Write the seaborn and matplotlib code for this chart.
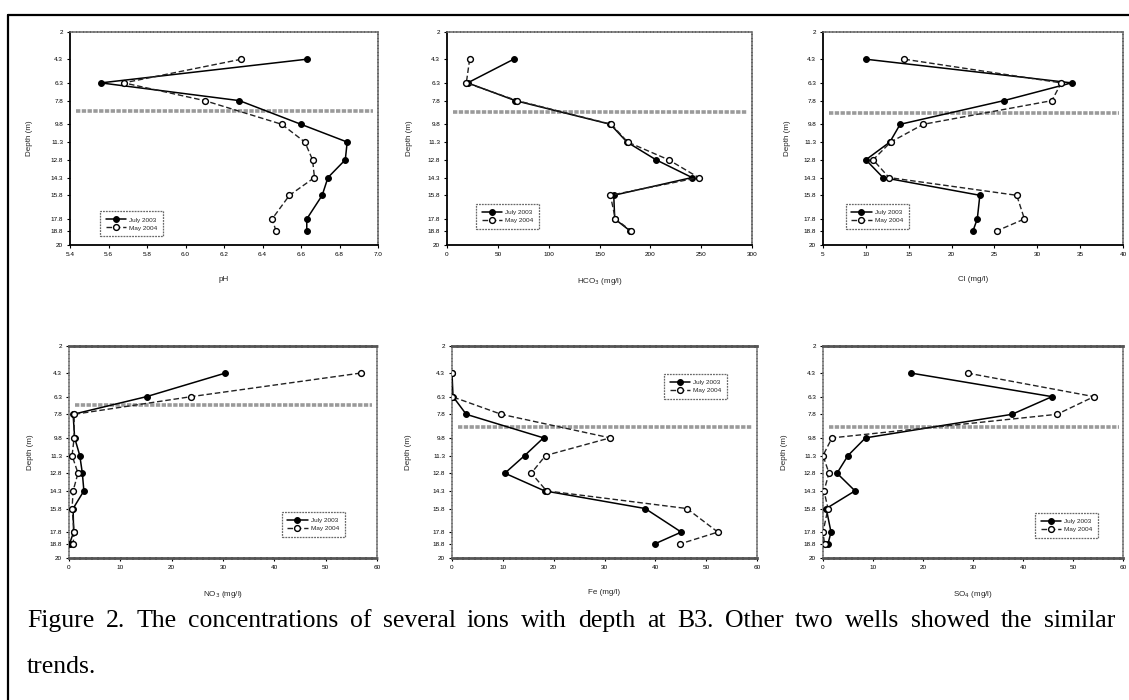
import numpy as np
import pandas as pd
import matplotlib
matplotlib.use("Agg")
import matplotlib.pyplot as plt
import seaborn as sns

# ---------------- data ----------------
depth = [4.3, 6.3, 7.8, 9.8, 11.3, 12.8, 14.3, 15.8, 17.8, 18.8]
depth_ticks = [2, 4.3, 6.3, 7.8, 9.8, 11.3, 12.8, 14.3, 15.8, 17.8, 18.8, 20]
depth_tick_labels = ["2", "4.3", "6.3", "7.8", "9.8", "11.3", "12.8", "14.3", "15.8", "17.8", "18.8", "20"]

ph_jul03 = [6.63, 5.56, 6.28, 6.60, 6.84, 6.83, 6.74, 6.71, 6.63, 6.63]
ph_may04 = [6.29, 5.68, 6.10, 6.50, 6.62, 6.66, 6.67, 6.54, 6.45, 6.47]

hco3_jul03 = [65.6, 20.3, 67.2, 160.7, 177.0, 205.6, 241.0, 164.0, 165.0, 180.0]
hco3_may04 = [22.3, 19.0, 68.9, 161.6, 177.7, 218.0, 247.5, 160.7, 165.6, 181.0]

cl_jul03 = [10.0, 34.0, 26.1, 14.0, 12.8, 10.0, 12.0, 23.3, 23.0, 22.5]
cl_may04 = [14.5, 32.8, 31.7, 16.7, 12.9, 10.85, 12.7, 27.6, 28.5, 25.3]

no3_jul03 = [30.45, 15.1, 0.8, 1.1, 2.1, 2.6, 2.9, 0.8, 0.9, 0.1]
no3_may04 = [56.8, 23.8, 1.0, 1.0, 0.6, 1.75, 0.8, 0.6, 1.0, 0.8]

fe_jul03 = [0.0, 0.2, 2.8, 18.0, 14.3, 10.4, 18.2, 38.0, 45.1, 39.9]
fe_may04 = [0.0, 0.0, 9.7, 31.1, 18.4, 15.6, 18.6, 46.2, 52.3, 44.9]

so4_jul03 = [17.6, 45.8, 37.8, 8.5, 5.0, 2.8, 6.4, 0.65, 1.6, 1.0]
so4_may04 = [28.9, 54.2, 46.8, 1.8, 0.0, 1.2, 0.2, 1.0, 0.0, 0.3]

series_names = ["July 2003", "May 2004"]
x_labels = ["pH", "HCO$_3$ (mg/l)", "Cl (mg/l)", "NO$_3$ (mg/l)", "Fe (mg/l)", "SO$_4$ (mg/l)"]
x_limits = [(5.4, 7.0), (0, 300), (5, 40), (0, 60), (0, 60), (0, 60)]
x_steps = [0.2, 50, 5, 10, 10, 10]
water_table = [8.7, 8.8, 8.85, 7.0, 8.9, 8.9]

caption_line1 = ("Figure 2. The concentrations of several ions with depth at B3. "
                 "Other two wells showed the similar")
caption_line2 = "trends."

panel_data = [(ph_jul03, ph_may04), (hco3_jul03, hco3_may04), (cl_jul03, cl_may04),
              (no3_jul03, no3_may04), (fe_jul03, fe_may04), (so4_jul03, so4_may04)]

# ---------------- layout ----------------
W, H = 1129, 700
sns.set_style("white")
plt.rcParams["font.family"] = ["Liberation Sans", "DejaVu Sans"]

fig = plt.figure(figsize=(W / 100, H / 100), dpi=100)

# axes boxes in pixels: left, right, top, bottom
boxes = [(70, 378, 32, 245), (447, 752, 32, 245), (823, 1123, 32, 245),
         (69, 377, 346, 558), (452, 757, 346, 558), (823, 1123, 346, 558)]
legend_pos = [(0.097, 0.04), (0.095, 0.075), (0.075, 0.075),
              (0.69, 0.10), (0.695, 0.75), (0.706, 0.094)]
ylabel_off = [37, 34, 32, 35, 40, 35]

for i, (box, (jul, may)) in enumerate(zip(boxes, panel_data)):
    l, r, t, b = box
    ax = fig.add_axes([l / W, 1 - b / H, (r - l) / W, (b - t) / H])
    df_j = pd.DataFrame({"value": jul, "depth": depth})
    df_m = pd.DataFrame({"value": may, "depth": depth})
    sns.lineplot(data=df_j, x="value", y="depth", orient="y", errorbar=None, ax=ax,
                 color="black", linewidth=1.1, marker="o", markersize=4.2,
                 markerfacecolor="black", markeredgecolor="black",
                 label=series_names[0], zorder=4)
    sns.lineplot(data=df_m, x="value", y="depth", orient="y", errorbar=None, ax=ax,
                 color="#222222", linewidth=1.0, linestyle=(0, (4, 2)), marker="o",
                 markersize=4.2, markerfacecolor="white", markeredgecolor="black",
                 markeredgewidth=1.0, label=series_names[1], zorder=5)

    ax.axhline(water_table[i], xmin=0.02, xmax=0.985, color="#9a9a9a", lw=2.6,
               linestyle=(0, (1.2, 0.4)), zorder=3)

    x0, x1 = x_limits[i]
    ax.set_xlim(x0, x1)
    ax.set_ylim(20, 2)
    xt = np.arange(x0, x1 + x_steps[i] / 2, x_steps[i])
    ax.set_xticks(xt)
    if i == 0:
        ax.set_xticklabels([f"{v:.1f}" for v in xt])
    else:
        ax.set_xticklabels([f"{v:g}" for v in xt])
    ax.set_yticks(depth_ticks)
    ax.set_yticklabels(depth_tick_labels)
    ax.tick_params(axis="both", which="major", direction="out", length=2.5, width=0.8,
                   labelsize=4.6, pad=2.5, left=True, bottom=True, colors="black")

    ax.set_xlabel(x_labels[i], fontsize=5.8)
    ax.set_ylabel("Depth (m)", fontsize=5.8)
    ax.yaxis.set_label_coords(-ylabel_off[i] / (r - l), 0.5)
    ax.xaxis.set_label_coords(0.5, -31 / (b - t))

    if i < 3:
        for s in ["left", "bottom"]:
            ax.spines[s].set_color("black")
            ax.spines[s].set_linewidth(1.3)
        for s in ["top", "right"]:
            ax.spines[s].set_color("#666666")
            ax.spines[s].set_linewidth(1.1)
            ax.spines[s].set_linestyle((0, (1.5, 0.8)))
    else:
        for s in ["top", "bottom"]:
            ax.spines[s].set_color("#555555")
            ax.spines[s].set_linewidth(2.0)
            ax.spines[s].set_linestyle((0, (1.5, 0.6)))
        for s in ["left", "right"]:
            ax.spines[s].set_color("#777777")
            ax.spines[s].set_linewidth(1.1)
            ax.spines[s].set_linestyle((0, (1.5, 0.8)))

    leg = ax.legend(loc="lower left", bbox_to_anchor=legend_pos[i], fontsize=4.6,
                    frameon=True, fancybox=False, borderpad=0.9, handlelength=3.2,
                    labelspacing=0.4, handletextpad=0.5, borderaxespad=0)
    fr = leg.get_frame()
    fr.set_edgecolor("#444444")
    fr.set_linestyle((0, (1.5, 0.8)))
    fr.set_linewidth(0.9)
    leg.set_zorder(6)

# figure border (top and left lines)
fig.add_artist(plt.Line2D([8 / W, 1.0], [1 - 15 / H, 1 - 15 / H], color="black", lw=1.6,
                          transform=fig.transFigure))
fig.add_artist(plt.Line2D([8 / W, 8 / W], [1 - 15 / H, 0.0], color="black", lw=1.6,
                          transform=fig.transFigure))

# justified caption
renderer = fig.canvas.get_renderer()
cap_kw = dict(fontsize=18.5, family=["Liberation Serif", "DejaVu Serif"], color="black",
              va="baseline", ha="left")
words = caption_line1.split()
texts = [fig.text(0, 1 - 627 / H, w, **cap_kw) for w in words]
widths = [tx.get_window_extent(renderer=renderer).width for tx in texts]
x_left, x_right = 27, 1115
gap = (x_right - x_left - sum(widths)) / (len(words) - 1)
xpos = x_left
for tx, wd in zip(texts, widths):
    tx.set_x(xpos / W)
    xpos += wd + gap
fig.text(x_left / W, 1 - 673 / H, caption_line2, **cap_kw)

fig.savefig("out.png", dpi=100)
